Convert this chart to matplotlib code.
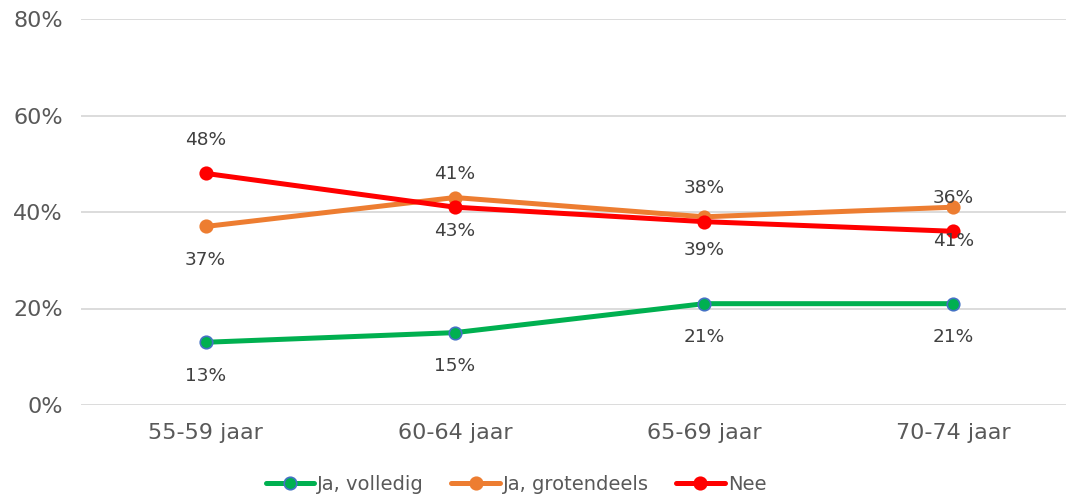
import matplotlib.pyplot as plt
import numpy as np

categories = ["55-59 jaar", "60-64 jaar", "65-69 jaar", "70-74 jaar"]
volledig = [13, 15, 21, 21]
grotendeels = [37, 43, 39, 41]
nee = [48, 41, 38, 36]
yticks = [0, 20, 40, 60, 80]

fig = plt.figure(figsize=(10.66, 4.97), dpi=100)
ax = fig.add_axes([81/1066, 92/497, 997/1066, 386/497])

x = np.arange(len(categories))
series = [
    ("Ja, volledig", volledig, "#00B050", "#4472C4", -1),
    ("Ja, grotendeels", grotendeels, "#ED7D31", "#ED7D31", -1),
    ("Nee", nee, "#FF0000", "#FF0000", 1),
]
for name, vals, col, edge, side in series:
    ax.plot(x, vals, color=col, lw=3.6, marker="o", ms=9,
            mfc=col, mec=edge, mew=1.2, label=name, solid_capstyle="round")
    for xi, v in zip(x, vals):
        ax.annotate(f"{v}%", (xi, v), xytext=(0, 24 * side), textcoords="offset points",
                    ha="center", va="center", fontsize=13.3, color="#404040")

ax.set_xlim(-0.5, 3.5)
ax.set_ylim(0, 80)
ax.set_yticks(yticks)
ax.set_yticklabels([f"{t}%" for t in yticks])
ax.set_xticks(x)
ax.set_xticklabels(categories)
ax.tick_params(length=0, labelsize=16, labelcolor="#595959")
ax.tick_params(axis="y", pad=13)
ax.tick_params(axis="x", pad=13)
ax.grid(axis="y", color="#D9D9D9", lw=1.3)
ax.set_axisbelow(True)
for s in ax.spines.values():
    s.set_visible(False)

fig.legend(loc="center", bbox_to_anchor=(516/1066, 1 - 484/497), ncol=3, frameon=False,
           fontsize=14, handlelength=2.5, handletextpad=0.15, columnspacing=1.4,
           labelcolor="#595959")

fig.savefig("out.png", dpi=100)
